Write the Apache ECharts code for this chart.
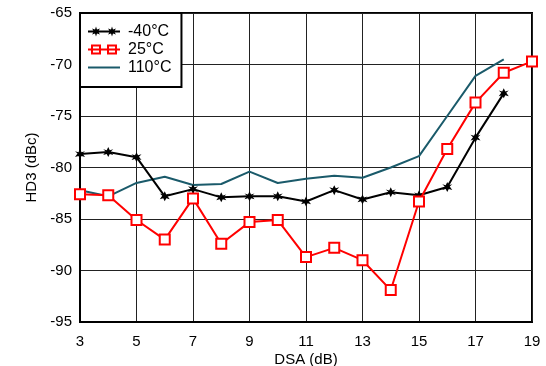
<!DOCTYPE html>
<html><head><meta charset="utf-8">
<script src="https://cdn.jsdelivr.net/npm/echarts@6/dist/echarts.min.js"></script>
<style>html,body{margin:0;padding:0;background:#fff}#c{width:546px;height:366px}</style>
</head><body><div id="c"></div>
<script>
const dsa = [3,4,5,6,7,8,9,10,11,12,13,14,15,16,17,18,19];
const m40 = [-78.7,-78.5,-79.0,-82.8,-82.1,-82.9,-82.8,-82.8,-83.3,-82.2,-83.1,-82.4,-82.7,-81.9,-77.1,-72.8,null];
const t25 = [-82.6,-82.7,-85.1,-87.0,-83.0,-87.4,-85.3,-85.1,-88.7,-87.8,-89.0,-91.9,-83.3,-78.2,-73.7,-70.8,-69.7];
const t110 = [-82.2,-82.8,-81.5,-80.9,-81.7,-81.6,-80.4,-81.5,-81.1,-80.8,-81.0,-80.0,-78.9,-75.0,-71.1,-69.5,null];
const names = ['-40°C','25°C','110°C'];
const xTicks = {min:3,max:19,interval:2};
const yTicks = {min:-95,max:-65,interval:5};

const pair = arr => dsa.map((x,i)=>[x,arr[i]]).filter(p=>p[1]!==null);
const star = 'path://M0,-6L1.6,-2.2L5.2,-3.4L2.6,-0.6L5.2,3.4L1.6,2.2L0,6L-1.6,2.2L-5.2,3.4L-2.6,-0.6L-5.2,-3.4L-1.6,-2.2Z';
// legend icons (32x12 box): line with two markers
const iconStar = 'path://M0,5H32V7H0Z' +
  'M8,1L9,4L12,3L10,6L12,9L9,8L8,11L7,8L4,9L6,6L4,3L7,4Z' +
  'M24,1L25,4L28,3L26,6L28,9L25,8L24,11L23,8L20,9L22,6L20,3L23,4Z';
const iconSq = 'path://M0,5H32V7H0Z' +
  'M3,1H13V11H3ZM5,3V9H11V3Z' +
  'M19,1H29V11H19ZM21,3V9H27V3Z';
const iconLine = 'path://M0,5H32V7H0Z';
const font = 'Liberation Sans, Arial, sans-serif';
const chart = echarts.init(document.getElementById('c'));
chart.setOption({
  animation:false,
  backgroundColor:'#fff',
  grid:{left:80,right:14,top:13,bottom:44,containLabel:false,outerBoundsMode:'none',
    show:true,borderColor:'#000',borderWidth:2},
  legend:{
    left:80,top:13,orient:'vertical',
    backgroundColor:'#fff',borderColor:'#000',borderWidth:2,
    padding:[10,10,11,8],itemGap:1,itemWidth:32,itemHeight:12,
    textStyle:{fontFamily:font,fontSize:16,lineHeight:17,color:'#000',padding:[0,0,0,3]},
    data:[
      {name:names[0],icon:iconStar,itemStyle:{color:'#000',borderWidth:0}},
      {name:names[1],icon:iconSq,itemStyle:{color:'#ff0000',borderWidth:0}},
      {name:names[2],icon:iconLine,itemStyle:{color:'#1a5a6a',borderWidth:0}}
    ]
  },
  xAxis:{type:'value',min:xTicks.min,max:xTicks.max,interval:xTicks.interval,
    name:'DSA (dB)',nameLocation:'middle',nameGap:30,nameMoveOverlap:false,
    nameTextStyle:{fontFamily:font,fontSize:15,color:'#000'},
    axisLine:{lineStyle:{color:'#000',width:2}},axisTick:{show:false},
    axisLabel:{fontFamily:font,fontSize:15,color:'#000',margin:12},
    splitLine:{lineStyle:{color:'#222',width:1}}},
  yAxis:{type:'value',min:yTicks.min,max:yTicks.max,interval:yTicks.interval,
    name:'HD3 (dBc)',nameLocation:'middle',nameGap:41,nameMoveOverlap:false,
    nameTextStyle:{fontFamily:font,fontSize:15,color:'#000'},
    axisLine:{show:true,lineStyle:{color:'#000',width:2}},axisTick:{show:false},
    axisLabel:{fontFamily:font,fontSize:15,color:'#000',margin:8},
    splitLine:{lineStyle:{color:'#222',width:1}}},
  series:[
    {name:names[0],type:'line',data:pair(m40),symbol:star,symbolSize:10,
     lineStyle:{color:'#000',width:2},itemStyle:{color:'#000'},z:3},
    {name:names[1],type:'line',data:pair(t25),symbol:'rect',symbolSize:10,
     lineStyle:{color:'#ff0000',width:2},itemStyle:{color:'#fff',borderColor:'#ff0000',borderWidth:2},z:4},
    {name:names[2],type:'line',data:pair(t110),symbol:'none',showSymbol:false,
     lineStyle:{color:'#1a5a6a',width:2},itemStyle:{color:'#1a5a6a'},z:2}
  ]
});
</script></body></html>
